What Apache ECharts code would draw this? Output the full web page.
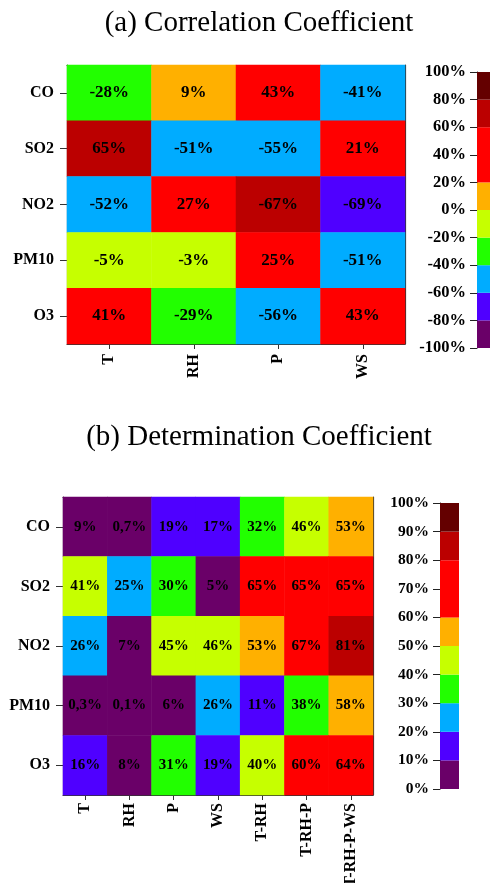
<!DOCTYPE html>
<html>
<head>
<meta charset="utf-8">
<script src="https://cdn.jsdelivr.net/npm/echarts@6/dist/echarts.min.js"></script>
<style>
  html, body { margin: 0; padding: 0; background: #fff; }
  #chart { width: 490px; height: 883px; }
</style>
</head>
<body>
<div id="chart"></div>
<script>
// ---- (a) correlation coefficients (%) ----
const pollutants = ['CO', 'SO2', 'NO2', 'PM10', 'O3'];
const corrFactors = ['T', 'RH', 'P', 'WS'];
const corrCO   = [-28, 9, 43, -41];
const corrSO2  = [65, -51, -55, 21];
const corrNO2  = [-52, 27, -67, -69];
const corrPM10 = [-5, -3, 25, -51];
const corrO3   = [41, -29, -56, 43];
const corrTicks = [-100, -80, -60, -40, -20, 0, 20, 40, 60, 80, 100];
// colour classes of the correlation scale (lower bound, upper bound)
const corrBreaks = [-100, -80, -60, -40, -20, 0, 20, 60, 80, 100];
// NO2 vs P is shaded in the 60–80 % class
const corrShadeOverride = [{ row: 'NO2', col: 'P', shade: 67 }];

// ---- (b) determination coefficients (%) ----
const detFactors = ['T', 'RH', 'P', 'WS', 'T-RH', 'T-RH-P', 'T-RH-P-WS'];
const detCO   = [9, 0.7, 19, 17, 32, 46, 53];
const detSO2  = [41, 25, 30, 5, 65, 65, 65];
const detNO2  = [26, 7, 45, 46, 53, 67, 81];
const detPM10 = [0.3, 0.1, 6, 26, 11, 38, 58];
const detO3   = [16, 8, 31, 19, 40, 60, 64];
const detTicks = [0, 10, 20, 30, 40, 50, 60, 70, 80, 90, 100];
const detBreaks = [0, 10, 20, 30, 40, 50, 60, 80, 90, 100];

// shared palette, lowest class first
const palette = ['#6a0068', '#4f00ff', '#00acff', '#22ff00', '#c6ff00',
                 '#ffb000', '#ff0000', '#bb0000', '#640000'];

const SERIF = '"Liberation Serif", "Times New Roman", serif';

function cells(rows) {
  const out = [];
  rows.forEach((r, yi) => r.forEach((v, xi) => out.push([xi, yi, v])));
  return out;
}
function pieces(breaks) {
  const p = [];
  for (let i = 0; i < breaks.length - 1; i++) {
    p.push({ gte: breaks[i], lt: breaks[i + 1] + (i === breaks.length - 2 ? 0.001 : 0), color: palette[i] });
  }
  return p;
}
function colourFor(v, breaks) {
  for (let i = 0; i < breaks.length - 1; i++) {
    if (v >= breaks[i] && v <= breaks[i + 1]) return palette[i];
  }
  return palette[palette.length - 1];
}
function bands(breaks) {
  const out = [];
  for (let i = 0; i < breaks.length - 1; i++) out.push([breaks[i], breaks[i + 1], i]);
  return out;
}
const bandSeries = (xi, yi) => ({
  type: 'custom',
  xAxisIndex: xi, yAxisIndex: yi,
  renderItem(params, api) {
    const p0 = api.coord([0, api.value(0)]);
    const p1 = api.coord([1, api.value(1)]);
    return {
      type: 'rect',
      shape: { x: p0[0], y: p1[1], width: p1[0] - p0[0], height: p0[1] - p1[1] },
      style: { fill: palette[api.value(2)] }
    };
  },
  encode: { x: -1, y: [0, 1] },
  silent: true
});

const corrRows = [corrCO, corrSO2, corrNO2, corrPM10, corrO3];
const corrData = cells(corrRows).map(d => {
  const o = corrShadeOverride.find(s => pollutants.indexOf(s.row) === d[1] && corrFactors.indexOf(s.col) === d[0]);
  return o ? { value: d, itemStyle: { color: colourFor(o.shade, corrBreaks) } } : d;
});
const detData = cells([detCO, detSO2, detNO2, detPM10, detO3]);

const labelFont = { fontFamily: SERIF, fontWeight: 'bold', color: '#000' };
const frameLine = { show: true, lineStyle: { color: '#333', width: 1.2 } };

function catX(grid, data, margin) {
  return {
    type: 'category', gridIndex: grid, data: data, position: 'bottom',
    axisLine: frameLine,
    axisTick: { show: true, alignWithLabel: true, length: 5, lineStyle: { color: '#333' } },
    axisLabel: Object.assign({ rotate: 90, fontSize: 16, margin: margin, interval: 0 }, labelFont),
    splitLine: { show: false }
  };
}
function catY(grid, data) {
  return {
    type: 'category', gridIndex: grid, data: data, inverse: true,
    axisLine: frameLine,
    axisTick: { show: true, alignWithLabel: true, length: 7, lineStyle: { color: '#333' } },
    axisLabel: Object.assign({ fontSize: 16, margin: 13 }, labelFont),
    splitLine: { show: false }
  };
}
function frameX(grid) {
  return { type: 'category', gridIndex: grid, position: 'top', data: [''],
           axisLine: frameLine, axisTick: { show: false }, axisLabel: { show: false } };
}
function frameY(grid) {
  return { type: 'value', gridIndex: grid, position: 'right', min: 0, max: 1,
           axisLine: frameLine, axisTick: { show: false }, axisLabel: { show: false }, splitLine: { show: false } };
}
function barX(grid) {
  return { type: 'value', gridIndex: grid, min: 0, max: 1, show: false };
}
function barY(grid, ticks, size) {
  return {
    type: 'value', gridIndex: grid, min: ticks[0], max: ticks[ticks.length - 1],
    interval: ticks[1] - ticks[0],
    axisLine: { show: true, lineStyle: { color: '#222', width: 1 } },
    axisTick: { show: true, length: 7, lineStyle: { color: '#222' } },
    axisLabel: Object.assign({ fontSize: size, margin: 11, formatter: '{value}%' }, labelFont),
    splitLine: { show: false }
  };
}

const chart = echarts.init(document.getElementById('chart'), null, { renderer: 'canvas' });
chart.setOption({
  backgroundColor: '#fff',
  animation: false,
  title: [
    { text: '(a) Correlation Coefficient', left: 254, top: 4, textAlign: 'center',
      textStyle: { fontFamily: SERIF, fontWeight: 'normal', fontSize: 29, color: '#000' } },
    { text: '(b) Determination Coefficient', left: 254, top: 418, textAlign: 'center',
      textStyle: { fontFamily: SERIF, fontWeight: 'normal', fontSize: 29, color: '#000' } }
  ],
  grid: [
    { left: 67, top: 65, width: 338, height: 279, outerBoundsMode: 'none', containLabel: false },
    { left: 477, top: 72, width: 14, height: 276, outerBoundsMode: 'none', containLabel: false },
    { left: 63, top: 497, width: 310, height: 298, outerBoundsMode: 'none', containLabel: false },
    { left: 440, top: 503, width: 19, height: 286, outerBoundsMode: 'none', containLabel: false }
  ],
  xAxis: [
    catX(0, corrFactors, 10), barX(1), catX(2, detFactors, 8),
    barX(3), frameX(0), frameX(2)
  ],
  yAxis: [
    catY(0, pollutants), barY(1, corrTicks, 16.5), catY(2, pollutants),
    barY(3, detTicks, 15.5), frameY(0), frameY(2)
  ],
  visualMap: [
    { type: 'piecewise', show: false, seriesIndex: 0, dimension: 2, pieces: pieces(corrBreaks) },
    { type: 'piecewise', show: false, seriesIndex: 2, dimension: 2, pieces: pieces(detBreaks) }
  ],
  series: [
    {
      type: 'heatmap', xAxisIndex: 0, yAxisIndex: 0, data: corrData,
      label: Object.assign({ show: true, fontSize: 17,
        formatter: p => p.value[2] + '%' }, labelFont),
      itemStyle: { borderWidth: 0 }
    },
    Object.assign(bandSeries(1, 1), { data: bands(corrBreaks) }),
    {
      type: 'heatmap', xAxisIndex: 2, yAxisIndex: 2, data: detData,
      label: Object.assign({ show: true, fontSize: 15,
        formatter: p => String(p.value[2]).replace('.', ',') + '%' }, labelFont),
      itemStyle: { borderWidth: 0 }
    },
    Object.assign(bandSeries(3, 3), { data: bands(detBreaks) })
  ]
});
</script>
</body>
</html>
